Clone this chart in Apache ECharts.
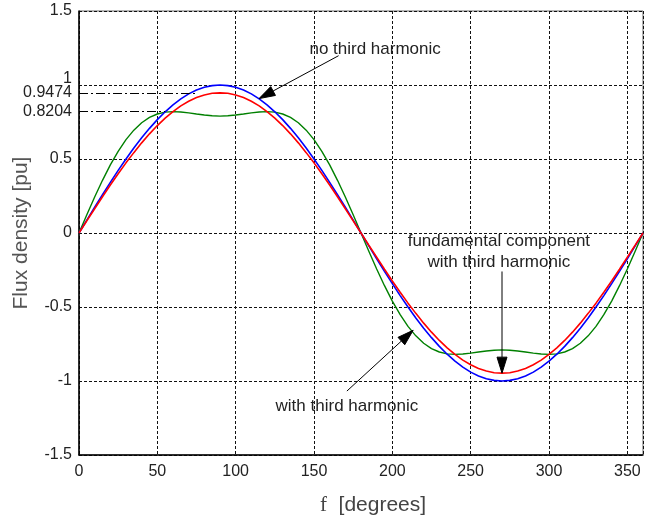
<!DOCTYPE html>
<html>
<head>
<meta charset="utf-8">
<script src="https://cdn.jsdelivr.net/npm/echarts@6/dist/echarts.min.js"></script>
<style>
html,body{margin:0;padding:0;background:#fff;}
#main{width:646px;height:521px;}
</style>
</head>
<body>
<div id="main"></div>
<script>
// ---- data ----
const angles = [0,5,10,15,20,25,30,35,40,45,50,55,60,65,70,75,80,85,90,95,100,105,110,115,120,125,130,135,140,145,150,155,160,165,170,175,180,
185,190,195,200,205,210,215,220,225,230,235,240,245,250,255,260,265,270,275,280,285,290,295,300,305,310,315,320,325,330,335,340,345,350,355,360];
const noThird = [0,.087,.174,.259,.342,.423,.5,.574,.643,.707,.766,.819,.866,.906,.940,.966,.985,.996,1,.996,.985,.966,.940,.906,.866,.819,.766,.707,.643,.574,.5,.423,.342,.259,.174,.087,0,
-.087,-.174,-.259,-.342,-.423,-.5,-.574,-.643,-.707,-.766,-.819,-.866,-.906,-.940,-.966,-.985,-.996,-1,-.996,-.985,-.966,-.940,-.906,-.866,-.819,-.766,-.707,-.643,-.574,-.5,-.423,-.342,-.259,-.174,-.087,0];
const fundamental = [0,.083,.164,.245,.324,.400,.474,.543,.609,.670,.726,.776,.820,.859,.890,.915,.933,.944,.947,.944,.933,.915,.890,.859,.820,.776,.726,.670,.609,.543,.474,.400,.324,.245,.164,.083,0,
-.083,-.164,-.245,-.324,-.400,-.474,-.543,-.609,-.670,-.726,-.776,-.820,-.859,-.890,-.915,-.933,-.944,-.947,-.944,-.933,-.915,-.890,-.859,-.820,-.776,-.726,-.670,-.609,-.543,-.474,-.400,-.324,-.245,-.164,-.083,0];
const withThird = [0,.123,.243,.356,.460,.552,.631,.695,.745,.781,.804,.817,.820,.818,.812,.804,.797,.792,.790,.792,.797,.804,.812,.818,.820,.817,.804,.781,.745,.695,.631,.552,.460,.356,.243,.123,0,
-.123,-.243,-.356,-.460,-.552,-.631,-.695,-.745,-.781,-.804,-.817,-.820,-.818,-.812,-.804,-.797,-.792,-.790,-.792,-.797,-.804,-.812,-.818,-.820,-.817,-.804,-.781,-.745,-.695,-.631,-.552,-.460,-.356,-.243,-.123,0];
const refLevels = [0.9474, 0.8204];
const refLevelEnds = [75, 55];

// annotations (data coordinates)
const annoTexts = [
  {text:'no third harmonic', x:189, y:1.238},
  {text:'fundamental component', x:268, y:-0.054},
  {text:'with third harmonic', x:268, y:-0.195},
  {text:'with third harmonic', x:171, y:-1.171}
];
const annoArrows = [
  {from:[165.7,1.198], to:[114.9,0.908]},
  {from:[270,-0.26], to:[270,-0.947]},
  {from:[171,-1.068], to:[213.3,-0.657]}
];

const FONT = '"Liberation Sans", Arial, sans-serif';
const chart = echarts.init(document.getElementById('main'), null, {renderer:'canvas'});

function pairs(ys){ return angles.map((a,i)=>[a, ys[i]]); }

const gridLine = {show:true, lineStyle:{color:'#111', type:[3,2], width:1}};

const option = {
  animation:false,
  backgroundColor:'#fff',
  grid:{left:79, top:11, right:-1, bottom:65, show:true, borderColor:'#666', borderWidth:1, backgroundColor:'transparent'},
  xAxis:{
    type:'value', min:0, max:360, interval:50,
    axisLine:{show:true, onZero:false, lineStyle:{color:'#000', width:1.5}},
    axisTick:{show:false},
    axisLabel:{color:'#222', fontSize:16, fontFamily:FONT, margin:9,
      formatter:(v)=> v===360 ? '' : String(v)},
    splitLine:gridLine,
    name:'{f|f}  [degrees]',
    nameLocation:'middle', nameGap:40,
    nameTextStyle:{color:'#444', fontSize:21, fontFamily:FONT, padding:[0,0,0,24],
      rich:{f:{fontFamily:'"Liberation Serif", serif', fontSize:21, color:'#444'}}}
  },
  yAxis:{
    type:'value', min:-1.5, max:1.5, interval:0.5,
    axisLine:{show:true, onZero:false, lineStyle:{color:'#000', width:1.5}},
    axisTick:{show:false},
    axisLabel:{color:'#222', fontSize:16, fontFamily:FONT, margin:7,
      formatter:(v)=> v===1 ? '{up|1}' : String(v),
      rich:{up:{fontSize:16, fontFamily:FONT, color:'#222', padding:[0,0,12,0]}}},
    splitLine:gridLine,
    name:'Flux density [pu]',
    nameLocation:'middle', nameGap:47,
    nameTextStyle:{color:'#555', fontSize:21, fontFamily:FONT}
  },
  series:[
    {type:'line', name:'no third harmonic', data:pairs(noThird), showSymbol:false, symbol:'none',
     lineStyle:{color:'#0000ff', width:1.6}, z:3},
    {type:'line', name:'with third harmonic', data:pairs(withThird), showSymbol:false, symbol:'none',
     lineStyle:{color:'#008000', width:1.4}, z:2},
    {type:'line', name:'fundamental component', data:pairs(fundamental), showSymbol:false, symbol:'none',
     lineStyle:{color:'#ff0000', width:1.6}, z:4,
     markLine:{
       silent:true, symbol:['none','none'], animation:false,
       lineStyle:{color:'#000', type:[9,3,2,3], width:1},
       label:{show:true, position:'start', distance:7, color:'#222', fontSize:16, fontFamily:FONT,
              formatter:(p)=>String(p.data.level)},
       data: refLevels.map((v,i)=>[{coord:[0,v], level:v},{coord:[refLevelEnds[i],v]}])
     }}
  ]
};
chart.setOption(option);

function px(p){ return chart.convertToPixel({gridIndex:0}, p); }
const graphics = [];
annoTexts.forEach(t=>{
  const p = px([t.x,t.y]);
  graphics.push({type:'text', x:p[0], y:p[1], z:100,
    style:{text:t.text, fill:'#222', font:'17px '+FONT, textAlign:'center', textVerticalAlign:'middle'}});
});
annoArrows.forEach(a=>{
  const T = px(a.from), P = px(a.to);
  const dx = P[0]-T[0], dy = P[1]-T[1];
  const len = Math.sqrt(dx*dx+dy*dy);
  const ux = dx/len, uy = dy/len, nx = -uy, ny = ux;
  const L = 16, W = 10;
  const bx = P[0]-L*ux, by = P[1]-L*uy;
  graphics.push({type:'line', z:100, shape:{x1:T[0], y1:T[1], x2:bx, y2:by}, style:{stroke:'#000', lineWidth:1}});
  graphics.push({type:'polygon', z:100, shape:{points:[[P[0],P[1]],[bx+nx*W/2,by+ny*W/2],[bx-nx*W/2,by-ny*W/2]]},
    style:{fill:'#000', stroke:'#000', lineWidth:1}});
});
chart.setOption({graphic:graphics});
</script>
</body>
</html>
